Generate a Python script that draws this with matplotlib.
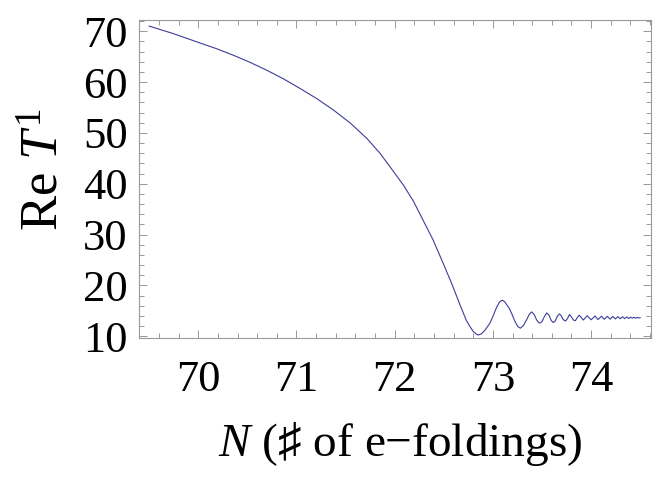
import matplotlib
matplotlib.use("Agg")
import matplotlib.pyplot as plt
from matplotlib.ticker import MultipleLocator

# values: N (e-foldings) and Re T^1
n_efold = [69.50, 69.75, 70.00, 70.18, 70.36, 70.53, 70.70, 70.87, 71.04, 71.21,
           71.38, 71.55, 71.72, 71.85, 71.95, 72.09, 72.19, 72.29, 72.39, 72.495,
           72.58, 72.665, 72.73, 72.77, 72.80, 72.83, 72.85, 72.88, 72.92, 72.97,
           73.00, 73.04, 73.07, 73.096, 73.12, 73.17, 73.20, 73.225, 73.255, 73.28,
           73.31, 73.345, 73.37, 73.395, 73.42, 73.446, 73.465, 73.48, 73.50, 73.525,
           73.548, 73.57, 73.595, 73.615, 73.635, 73.655, 73.676, 73.695, 73.715, 73.74,
           73.76, 73.78, 73.80, 73.82, 73.84, 73.86, 73.88, 73.90, 73.92, 73.94,
           73.96, 73.98, 74.00, 74.02, 74.04, 74.055, 74.07, 74.088, 74.105, 74.12,
           74.135, 74.15, 74.165, 74.18, 74.195, 74.208, 74.222, 74.235, 74.248, 74.26,
           74.273, 74.285, 74.297, 74.308, 74.32, 74.331, 74.342, 74.352, 74.363, 74.373,
           74.383, 74.393, 74.402, 74.411, 74.42, 74.437, 74.453, 74.468, 74.482, 74.50]
re_t1 = [71.0, 69.5, 67.8, 66.6, 65.25, 63.85, 62.3, 60.6, 58.7, 56.7,
         54.45, 51.9, 48.85, 46.0, 43.4, 39.7, 36.6, 32.8, 29.0, 24.3,
         20.4, 16.2, 13.1, 11.8, 10.95, 10.45, 10.26, 10.45, 11.2, 12.6,
         13.9, 15.8, 16.8, 17.1, 16.8, 15.4, 14.1, 12.9, 11.9, 11.6,
         12.1, 13.3, 14.3, 14.8, 14.3, 13.2, 12.7, 12.6, 12.9, 13.9,
         14.6, 14.2, 13.1, 12.7, 13.0, 13.9, 14.4, 14.1, 13.3, 13.0,
         13.5, 14.3, 13.8, 13.2, 13.07, 13.7, 14.15, 13.7, 13.2, 13.6,
         14.05, 13.65, 13.26, 13.6, 14.0, 13.65, 13.3, 13.6, 13.95, 13.65,
         13.35, 13.65, 13.93, 13.65, 13.38, 13.65, 13.9, 13.65, 13.42, 13.65,
         13.87, 13.65, 13.45, 13.65, 13.84, 13.65, 13.48, 13.65, 13.8, 13.65,
         13.52, 13.65, 13.77, 13.65, 13.55, 13.74, 13.58, 13.71, 13.61, 13.65]

x_ticks = [70, 71, 72, 73, 74]
y_ticks = [10, 20, 30, 40, 50, 60, 70]

plt.rcParams['font.family'] = ['Liberation Serif', 'DejaVu Sans']
plt.rcParams['mathtext.fontset'] = 'custom'
plt.rcParams['mathtext.rm'] = 'Liberation Serif'
plt.rcParams['mathtext.it'] = 'Liberation Serif:italic'

fig = plt.figure(figsize=(6.64, 4.88), dpi=100)
ax = fig.add_axes([0.2093, 0.3074, 0.7711, 0.6516])

ax.plot(n_efold, re_t1, color='#3d3d99', linewidth=0.8)

ax.set_xlim(69.396, 74.61)
ax.set_ylim(9.67, 72.2)
ax.set_xticks(x_ticks)
ax.set_yticks(y_ticks)
ax.xaxis.set_minor_locator(MultipleLocator(0.2))
ax.yaxis.set_minor_locator(MultipleLocator(2))

gray = '#999999'
for s in ax.spines.values():
    s.set_color(gray)
    s.set_linewidth(0.8)
ax.tick_params(which='both', direction='in', top=True, right=True, color=gray, width=0.7)
ax.tick_params(which='major', length=6)
ax.tick_params(which='minor', length=3.5)
ax.tick_params(axis='x', labelsize=32, pad=16)
ax.tick_params(axis='y', labelsize=32, pad=8)

ax.set_xlabel('$N$ (\u266f of e\u2212foldings)', fontsize=34)
ax.set_ylabel('Re $T^{\\mathrm{1}}$', fontsize=38)
ax.xaxis.set_label_coords(0.51, -0.255)
ax.yaxis.set_label_coords(-0.137, 0.53)

fig.savefig('out.png', dpi=100)
